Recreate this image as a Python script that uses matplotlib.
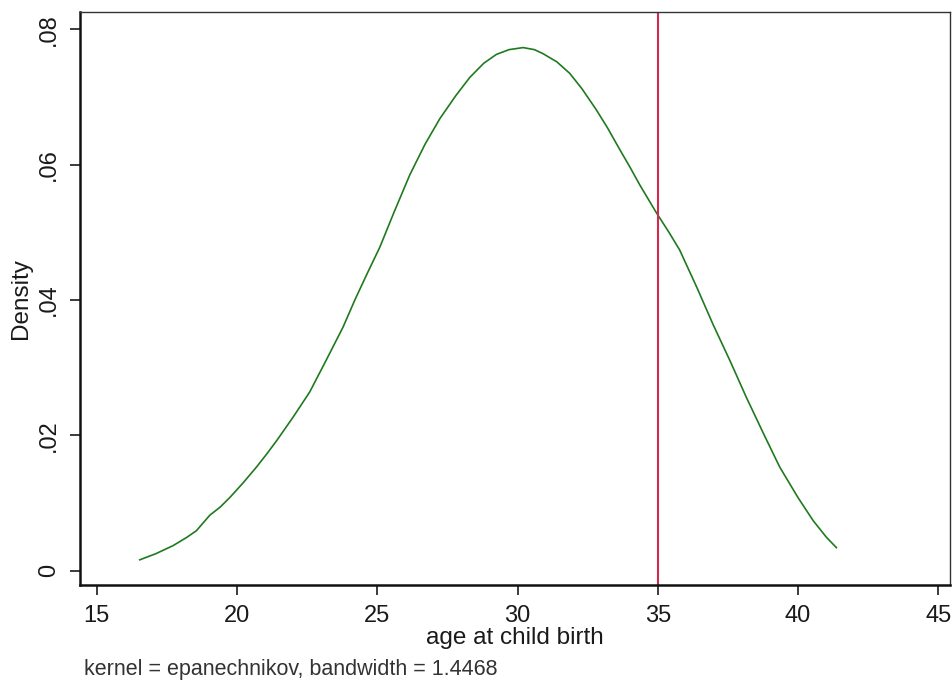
import numpy as np
import matplotlib.pyplot as plt

plt.rcParams['font.family'] = ['Liberation Sans', 'DejaVu Sans']

# kernel density estimate of age at child birth
age = [16.53, 17.10, 17.72, 18.20, 18.55, 19.03, 19.40, 19.74, 20.20, 20.69,
       21.05, 21.41, 22.00, 22.59, 23.19, 23.78, 24.20, 24.65, 25.09, 25.60,
       26.16, 26.70, 27.23, 27.80, 28.30, 28.80, 29.25, 29.70, 30.20, 30.60,
       30.91, 31.40, 31.86, 32.30, 32.81, 33.20, 33.65, 34.00, 34.36, 34.95,
       35.40, 35.78, 36.40, 36.97, 37.60, 38.16, 38.80, 39.35, 40.00, 40.54,
       41.00, 41.37]
density = [0.0016, 0.0025, 0.0037, 0.0049, 0.0059, 0.0082, 0.0094, 0.0108, 0.0129, 0.0153,
           0.0172, 0.0192, 0.0227, 0.0264, 0.0312, 0.0360, 0.0400, 0.0440, 0.0478, 0.0530,
           0.0585, 0.0630, 0.0668, 0.0702, 0.0729, 0.0750, 0.0763, 0.0770, 0.0773, 0.0770,
           0.0764, 0.0752, 0.0735, 0.0712, 0.0681, 0.0655, 0.0622, 0.0597, 0.0570, 0.0529,
           0.0500, 0.0474, 0.0418, 0.0364, 0.0308, 0.0256, 0.0200, 0.0153, 0.0108, 0.0074,
           0.0050, 0.0034]

cutoff = 35
x_ticks = [15, 20, 25, 30, 35, 40, 45]
y_ticks = [0, 0.02, 0.04, 0.06, 0.08]
y_tick_labels = ['0', '.02', '.04', '.06', '.08']
note = 'kernel = epanechnikov, bandwidth = 1.4468'

fig = plt.figure(figsize=(9.53, 6.82), dpi=100)
ax = fig.add_axes([80 / 953, 1 - 585 / 682, 870 / 953, 573 / 682])

ax.plot(age, density, color='#1f7a1f', lw=1.2)
ax.axvline(cutoff, color='#d2294f', lw=1.5)

ax.set_xlim(14.40, 45.42)
ax.set_ylim(-0.00212, 0.08256)

ax.set_xticks(x_ticks)
ax.set_yticks(y_ticks)
ax.set_yticklabels(y_tick_labels, rotation=90, va='center')
ax.tick_params(axis='both', labelsize=17, direction='out', length=7.5, width=1.2, colors='#1a1a1a', labelcolor='#1a1a1a')
ax.tick_params(axis='x', pad=7)
ax.tick_params(axis='y', pad=7)

for side in ['left', 'bottom']:
    ax.spines[side].set_linewidth(1.8)
    ax.spines[side].set_color('#111111')
for side in ['top', 'right']:
    ax.spines[side].set_linewidth(1.0)
    ax.spines[side].set_color('#333333')

ax.set_xlabel('age at child birth', fontsize=17.5, color='#1a1a1a', labelpad=0)
ax.set_ylabel('Density', fontsize=17.5, color='#1a1a1a', labelpad=4)

fig.text(84 / 953, 1 - 670 / 682, note, fontsize=15.5, color='#333333', va='center', ha='left')

fig.savefig('out.png', dpi=100)
